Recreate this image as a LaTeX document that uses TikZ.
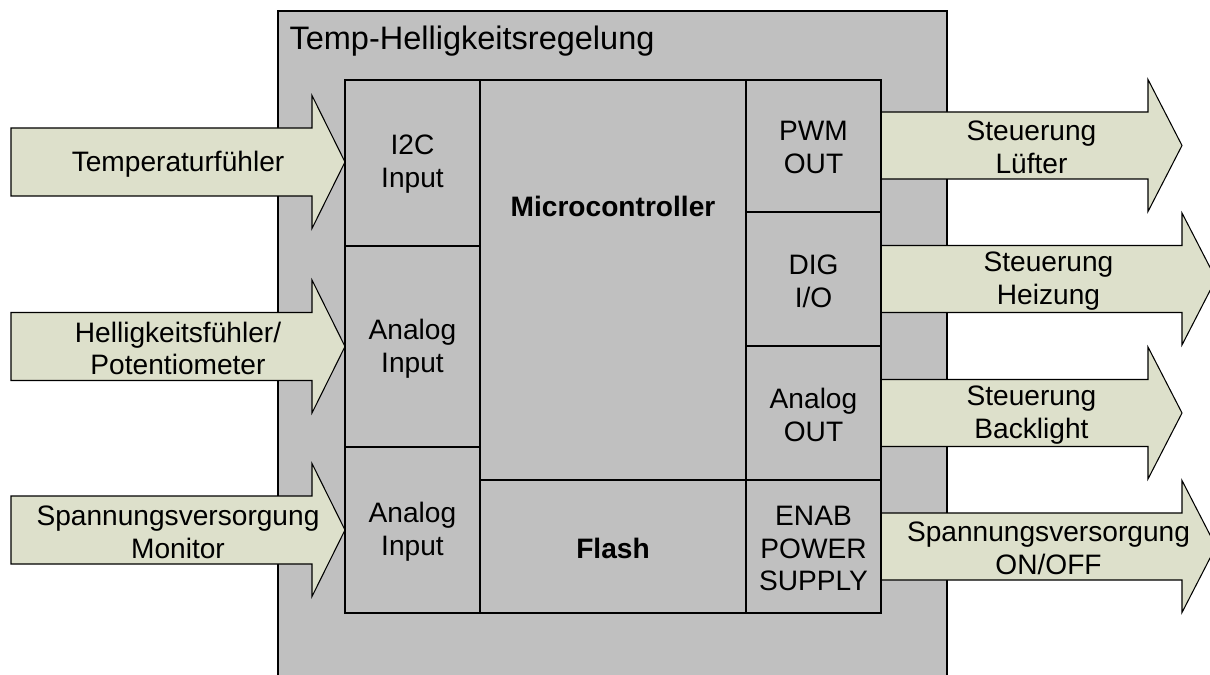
\documentclass[tikz,border=0pt]{standalone}
\usepackage{fontspec}
\setmainfont{Liberation Sans}
\usetikzlibrary{positioning}

\definecolor{boxgray}{RGB}{192,192,192}
\definecolor{arrowgreen}{RGB}{221,224,203}

\begin{document}
\begin{tikzpicture}[x=0.02cm, y=-0.02cm, line width=0.6pt,
    lbl/.style={align=center, inner sep=0pt, yshift=-0.04cm, font=\fontsize{16}{18.7}\selectfont},
    boldlbl/.style={lbl, font=\fontsize{16}{18.7}\selectfont\bfseries},
    cell/.style={draw, fill=boxgray},
    bigarrow/.style={draw, fill=arrowgreen, line join=miter}]
    \useasboundingbox (0,0) rectangle (1210,675);

    % Outer block
    \draw[cell] (278,11) rectangle (947,700);
    \node[lbl, yshift=0.04cm, font=\fontsize{18.5}{22}\selectfont, anchor=base west] (title) at (289,50) {Temp-Helligkeitsregelung};

    % Inputs (left)
    \draw[bigarrow] (11,128) -- (312,128) -- (312,95.5) -- (345,162) -- (312,228.5) -- (312,196) -- (11,196) -- cycle;
    \node[lbl] (tempin) at (178,162) {Temperaturf\"uhler};
    \draw[bigarrow] (11,312.5) -- (312,312.5) -- (312,280) -- (345,346.5) -- (312,413) -- (312,380.5) -- (11,380.5) -- cycle;
    \node[lbl] (hellin) at (178,346.5) {Helligkeitsf\"uhler/\\Potentiometer};
    \draw[bigarrow] (11,496) -- (312,496) -- (312,463.5) -- (345,530) -- (312,596.5) -- (312,564) -- (11,564) -- cycle;
    \node[lbl] (spgin) at (178,530) {Spannungsversorgung\\Monitor};

    % Outputs (right)
    \draw[bigarrow] (881,112) -- (1148,112) -- (1148,79.5) -- (1182,145.5) -- (1148,211.5) -- (1148,179) -- (881,179) -- cycle;
    \node[lbl] (luefter) at (1031.5,145.5) {Steuerung\\L\"ufter};
    \draw[bigarrow] (881,245.5) -- (1182,245.5) -- (1182,213) -- (1216,279) -- (1182,345) -- (1182,312.5) -- (881,312.5) -- cycle;
    \node[lbl] (heizung) at (1048.5,279) {Steuerung\\Heizung};
    \draw[bigarrow] (881,379.5) -- (1148,379.5) -- (1148,347) -- (1182,413) -- (1148,479) -- (1148,446.5) -- (881,446.5) -- cycle;
    \node[lbl] (backlight) at (1031.5,413) {Steuerung\\Backlight};
    \draw[bigarrow] (881,513) -- (1182,513) -- (1182,480.5) -- (1216,546.5) -- (1182,612.5) -- (1182,580) -- (881,580) -- cycle;
    \node[lbl] (spgout) at (1048.5,546.5) {Spannungsversorgung\\ON/OFF};

    % Left column
    \draw[cell] (345,80) rectangle (480,246);
    \node[lbl] (i2c) at (412.5,162) {I2C\\Input};
    \draw[cell] (345,246) rectangle (480,447);
    \node[lbl] (ain1) at (412.5,346.5) {Analog\\Input};
    \draw[cell] (345,447) rectangle (480,613);
    \node[lbl] (ain2) at (412.5,530) {Analog\\Input};

    % Middle
    \draw[cell] (480,80) rectangle (746,480);
    \node[boldlbl] (mcu) at (613,204) {Microcontroller};
    \draw[cell] (480,480) rectangle (746,613);
    \node[boldlbl] (flash) at (613,546.5) {Flash};

    % Right column
    \draw[cell] (746,80) rectangle (881,212);
    \node[lbl] (pwm) at (813.5,145.5) {PWM\\OUT};
    \draw[cell] (746,212) rectangle (881,346);
    \node[lbl] (dig) at (813.5,279) {DIG\\I/O};
    \draw[cell] (746,346) rectangle (881,480);
    \node[lbl] (aout) at (813.5,413) {Analog\\OUT};
    \draw[cell] (746,480) rectangle (881,613);
    \node[lbl] (enab) at (813.5,546.5) {ENAB\\POWER\\SUPPLY};
\end{tikzpicture}
\end{document}
